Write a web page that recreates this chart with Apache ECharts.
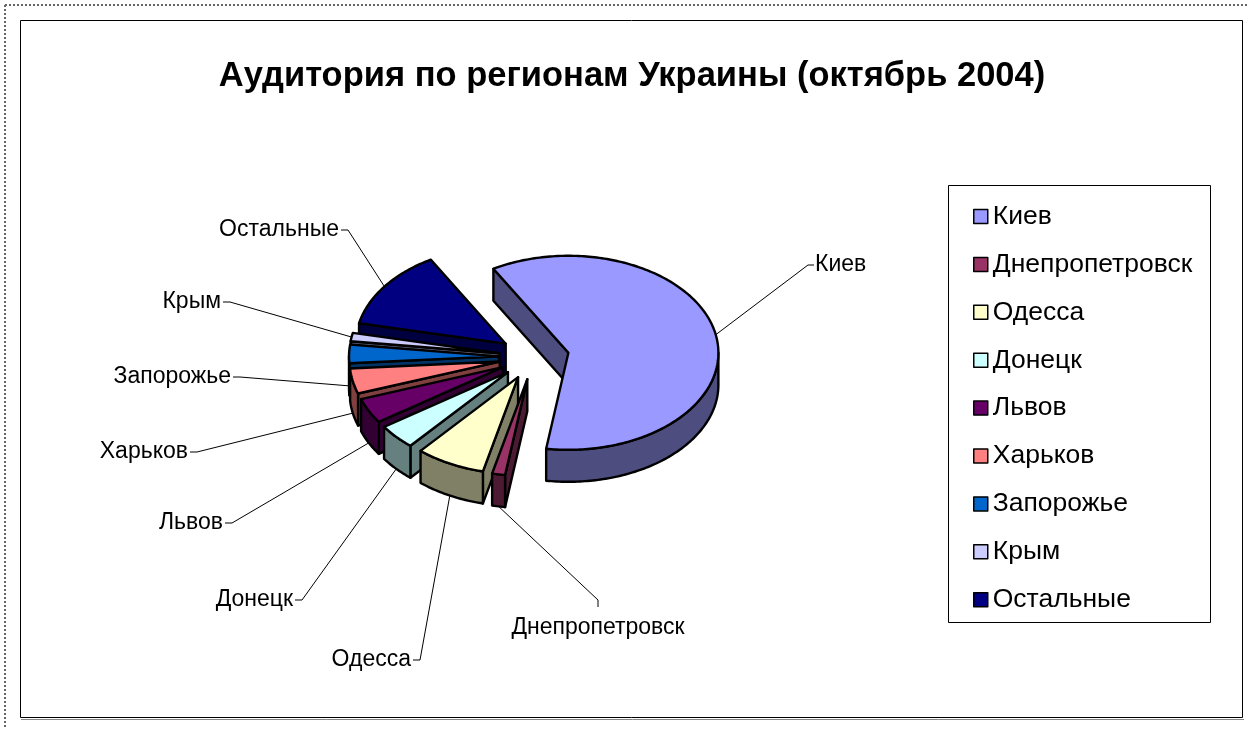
<!DOCTYPE html>
<html><head><meta charset="utf-8">
<script src="https://cdn.jsdelivr.net/npm/echarts@6/dist/echarts.min.js"></script>
<style>html,body{margin:0;padding:0;background:#fff}#c{width:1248px;height:729px}</style>
</head><body><div id="c"></div>
<script>
// ---- data ----
const regions = ['Киев','Днепропетровск','Одесса','Донецк','Львов','Харьков','Запорожье','Крым','Остальные'];
const shares  = [60.7, 1.4, 7.5, 4.2, 4.2, 4.2, 3.1, 1.4, 13.3];
const colors  = ['#9999FF','#993366','#FFFFCC','#CCFFFF','#660066','#FF8080','#0066CC','#CCCCFF','#000080'];
const titleText = 'Аудитория по регионам Украины (октябрь 2004)';

// ---- layout (not data) ----
const PIE = {cx:534, cy:357, rx:150, ry:97, depth:32, explode:35, startAngle:330};
const labelLayout = [
  {x:808, y:265, side:'right'},
  {x:598, y:600, side:'bottom'},
  {x:420, y:660, side:'left'},
  {x:302, y:600, side:'left'},
  {x:232, y:523, side:'left'},
  {x:197, y:452, side:'left'},
  {x:240, y:377, side:'left'},
  {x:230, y:302, side:'left'},
  {x:348, y:230, side:'left'}
];
const FONT = '"Liberation Sans", Arial, sans-serif';

const total = shares.reduce((a,b)=>a+b,0);
const rad = d => d*Math.PI/180;
function shade(hex,f){
  const n=parseInt(hex.slice(1),16);
  const r=Math.round(((n>>16)&255)*f), g=Math.round(((n>>8)&255)*f), b=Math.round((n&255)*f);
  return 'rgb('+r+','+g+','+b+')';
}
function rim(ax,ay,deg,dy){ return [ax + PIE.rx*Math.sin(rad(deg)), ay - PIE.ry*Math.cos(rad(deg)) + (dy||0)]; }
function arc(ax,ay,a,b,dy){ const pts=[]; const n=Math.max(2,Math.ceil(Math.abs(b-a))); for(let s=0;s<=n;s++){pts.push(rim(ax,ay,a+(b-a)*s/n,dy));} return pts; }

function sliceAngles(i){
  let before=0; for(let j=0;j<i;j++) before+=shares[j];
  const a1 = PIE.startAngle + before/total*360;
  const a2 = a1 + shares[i]/total*360;
  return [a1,a2,(a1+a2)/2];
}
// painter's order: back slices first
const order = shares.map((_,i)=>i).sort((p,q)=>(-Math.cos(rad(sliceAngles(p)[2])))-(-Math.cos(rad(sliceAngles(q)[2]))));
const rank = {}; order.forEach((idx,r)=>rank[idx]=r);

function renderItem(params, api){
  const i = params.dataIndex;
  const v = api.value(0);
  let before=0; for(let j=0;j<i;j++) before+=shares[j];
  const a1 = PIE.startAngle + before/total*360;
  const a2 = a1 + v/total*360;
  const mid = (a1+a2)/2;
  const k = PIE.ry/PIE.rx;
  const ax = PIE.cx + PIE.explode*Math.sin(rad(mid));
  const ay = PIE.cy - PIE.explode*k*Math.cos(rad(mid));
  const D = PIE.depth;
  const top = colors[i], side = shade(colors[i],0.5);
  const base = rank[i]*10;
  const stroke = {stroke:'#000', lineWidth:2.4, lineJoin:'round'};
  const ch = [];
  if (Math.sin(rad(a1)) < 0) {
    const p=rim(ax,ay,a1);
    ch.push({type:'polygon', z2:base, shape:{points:[[ax,ay],p,[p[0],p[1]+D],[ax,ay+D]]}, style:Object.assign({fill:side},stroke)});
  }
  if (Math.sin(rad(a2)) > 0) {
    const p=rim(ax,ay,a2);
    ch.push({type:'polygon', z2:base, shape:{points:[[ax,ay],p,[p[0],p[1]+D],[ax,ay+D]]}, style:Object.assign({fill:side},stroke)});
  }
  [[90,270],[450,630]].forEach(([lo,hi])=>{
    const s=Math.max(a1,lo), e=Math.min(a2,hi);
    if (e>s) {
      const up=arc(ax,ay,s,e,0), dn=arc(ax,ay,e,s,D);
      ch.push({type:'polygon', z2:base+1, shape:{points:up.concat(dn)}, style:Object.assign({fill:side},stroke)});
    }
  });
  ch.push({type:'polygon', z2:base+2, shape:{points:[[ax,ay]].concat(arc(ax,ay,a1,a2,0))}, style:Object.assign({fill:top},stroke)});

  // leader line + label
  const front = -Math.cos(rad(mid)) > -0.08;
  const anc = rim(ax,ay,mid, front ? D : 0);
  const L = labelLayout[i];
  let pts, tx, ty, align;
  if (L.side==='left'){ pts=[anc,[L.x,L.y],[L.x-7,L.y]]; tx=L.x-9; ty=L.y; align='right'; }
  else if (L.side==='right'){ pts=[anc,[L.x,L.y],[L.x+6,L.y]]; tx=L.x+7; ty=L.y; align='left'; }
  else { pts=[anc,[L.x,L.y],[L.x,L.y+7]]; tx=L.x; ty=L.y+28; align='center'; }
  ch.push({type:'polyline', z2:200, shape:{points:pts}, style:{stroke:'#000', lineWidth:1, fill:null}});
  ch.push({type:'text', z2:201, style:{text:regions[i], x:tx, y:ty, fill:'#000', fontSize:23, fontFamily:FONT, align:align, verticalAlign:'middle'}});
  return {type:'group', children:ch};
}

const chart = echarts.init(document.getElementById('c'), null, {renderer:'canvas'});
chart.setOption({
  animation:false,
  backgroundColor:'#fff',
  title:{text:titleText, left:627, top:54, textAlign:'center',
    textStyle:{fontSize:34.5, fontWeight:'bold', fontFamily:FONT, color:'#000'}},
  legend:{
    orient:'vertical', left:968, top:198, itemWidth:14, itemHeight:14, itemGap:20.9,
    selectedMode:false, icon:'rect',
    itemStyle:{borderColor:'#000', borderWidth:1.5},
    textStyle:{fontSize:26.5, fontFamily:FONT, color:'#000'},
    data: regions
  },
  graphic:[
    {type:'line', shape:{x1:5,y1:5,x2:1248,y2:5}, style:{stroke:'#666', lineWidth:2, lineDash:[2,2]}},
    {type:'line', shape:{x1:5,y1:5,x2:5,y2:729}, style:{stroke:'#666', lineWidth:2, lineDash:[2,2]}},
    {type:'rect', shape:{x:20.5,y:20.5,width:1222,height:697}, style:{stroke:'#000', lineWidth:1, fill:null}},
    {type:'line', shape:{x1:21,y1:719.5,x2:1244,y2:719.5}, style:{stroke:'#888', lineWidth:1}},
    {type:'rect', shape:{x:948.5,y:185.5,width:262,height:437}, style:{stroke:'#000', lineWidth:1, fill:null}}
  ],
  series:[
    {type:'pie', name:'legendHolder', radius:[0,0], center:[534,357], silent:true,
     label:{show:false}, labelLine:{show:false}, emphasis:{disabled:true},
     data: regions.map((n,i)=>({name:n, value:shares[i], itemStyle:{color:colors[i]}}))},
    {type:'custom', name:'Аудитория', coordinateSystem:'none', renderItem:renderItem,
     data: shares.map((v,i)=>({name:regions[i], value:[v]}))}
  ]
});
</script></body></html>
